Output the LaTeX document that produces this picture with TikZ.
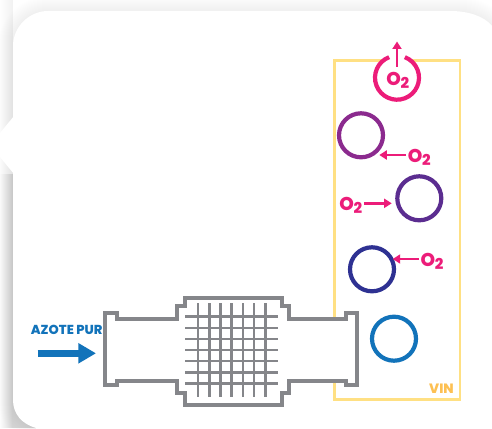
\documentclass[tikz,border=0pt]{standalone}
\usepackage{fontspec}
\setmainfont{Poppins}[BoldFont=Poppins ExtraBold]
\usetikzlibrary{arrows.meta}
\definecolor{pinkc}{HTML}{EC1C79}
\definecolor{vinc}{HTML}{FFE083}
\definecolor{vint}{HTML}{FDC052}
\definecolor{grayc}{HTML}{85868A}
\definecolor{bluec}{HTML}{1273BA}
\definecolor{purpa}{HTML}{8B2A8E}
\definecolor{purpb}{HTML}{5B2D90}
\definecolor{purpc}{HTML}{2E3192}
\newcommand{\otxt}{O\kern-0.2pt\raisebox{-3pt}{\fontsize{15}{15}\selectfont 2}}
\newcommand{\panelpath}{(13,46) .. controls (13,27) and (29,11) .. (48,11) -- (450,11) .. controls (468,11) and (484,16) .. (492,26) -- (520,26) -- (520,460) -- (36,460) -- (36,428) .. controls (22,424) and (13,414) .. (13,400) -- cycle}
\tikzset{x=1pt,y=-1pt,
 ring/.style={circle,draw,line width=4.2pt,minimum size=44pt,inner sep=0pt,outer sep=0pt,fill=white},
 openring/.style={circle,minimum size=44pt,inner sep=0pt,outer sep=0pt,fill=white},
 otwo/.style={font=\bfseries\fontsize{18.5}{18.5}\selectfont,text=pinkc,inner sep=0pt,outer sep=2pt},
 oarrow/.style={draw=pinkc,line width=2.6pt,-{Triangle[length=7.5pt,width=9pt]}},
 pipe/.style={draw=grayc,line width=3.8pt,fill=white,miter limit=10},
 gridline/.style={draw=grayc,line width=2.6pt},
 shadowlayer/.style={draw=black,line join=round,draw opacity=0.005}}
\begin{document}
\begin{tikzpicture}
\useasboundingbox (0,0) rectangle (492,428);
\clip (0,0) rectangle (492,428);
\fill[white] (0,0) rectangle (492,428);
% soft shadow of the panel
\foreach \w in {2,4,...,30}{\draw[shadowlayer,line width=\w pt] \panelpath;}
\foreach \i in {1,...,13}{
 \fill[black,opacity=0.005] ({13-\i},0) rectangle (13,174);
 \fill[black,opacity=0.010] ({13-\i},174) rectangle (50,428);
}
% white panel with its pointer on the left
\fill[white] \panelpath;
\fill[white] (14,116) -- (0,133) -- (0,157) -- (14,174) -- cycle;
% vessel
\node[draw=vinc,line width=2.8pt,inner sep=0pt,outer sep=0pt,minimum width=125.7pt,minimum height=338.6pt] (vin) at (397.2,230) {};
\node[font=\bfseries\fontsize{13.5}{13.5}\selectfont,text=vint,inner sep=0pt] (vint) at (441.5,389) {VIN};
% bubbles
\node[openring] (r1) at (397,77.7) {};
\begin{scope}[y=1pt]
\draw[pinkc,line width=4.2pt] (r1.111) arc[start angle=111,end angle=429,radius=22pt];
\end{scope}
\node[ring,draw=purpa] (r2) at (361,135.3) {};
\node[ring,draw=purpb] (r3) at (419.3,198.3) {};
\node[ring,draw=purpc] (r4) at (372,269.3) {};
\node[ring,draw=bluec] (r5) at (394,338.7) {};
% oxygen labels and arrows
\node[otwo] (o1) at (397.7,80) {\otxt};
\node[otwo] (o2) at (419.3,157) {\otxt};
\node[otwo] (o3) at (350.7,205) {\otxt};
\node[otwo] (o4) at (432,261) {\otxt};
\coordinate (s1) at (397,66.5);
\coordinate (t1) at (397,41.5);
\coordinate (t2) at (379.3,155);
\coordinate (t3) at (391.7,203.3);
\coordinate (t4) at (392.7,259);
\draw[oarrow] (s1) -- (t1);
\draw[oarrow] (o2.west |- t2) -- (t2);
\draw[oarrow] (o3.east |- t3) -- (t3);
\draw[oarrow] (o4.west |- t4) -- (t4);
% pipe with filter
\draw[pipe] (105,313.3) -- (116.7,313.3) -- (116.7,318.9) -- (177.3,318.9) -- (177.3,306) -- (185,306) -- (185,297.7) -- (282,297.7) -- (282,306) -- (289,306) -- (289,318.9) -- (345.7,318.9) -- (345.7,313.3) -- (357.3,313.3) -- (357.3,385.3) -- (345.7,385.3) -- (345.7,381.2) -- (289,381.2) -- (289,392.7) -- (282,392.7) -- (282,405) -- (185,405) -- (185,392.7) -- (177.3,392.7) -- (177.3,381.2) -- (116.7,381.2) -- (116.7,385.3) -- (105,385.3) -- cycle;
\foreach \x in {198,209.2,220.4,231.6,242.8,254,265.2}{\draw[gridline] (\x,303.3) -- (\x,396.7);}
\foreach \y in {316.7,327.8,338.9,350,361.1,372.2,383.3}{\draw[gridline] (185,\y) -- (278.3,\y);}
% inlet
\node[font=\bfseries\fontsize{13}{13}\selectfont,text=bluec,inner sep=0pt] (azote) at (66.7,330) {AZOTE PUR};
\coordinate (b1) at (37.7,353.3);
\coordinate (b2) at (96,353.3);
\draw[bluec,line width=6.7pt,-{Triangle[length=17.7pt,width=19.3pt]}] (b1) -- (b2);
\end{tikzpicture}
\end{document}
